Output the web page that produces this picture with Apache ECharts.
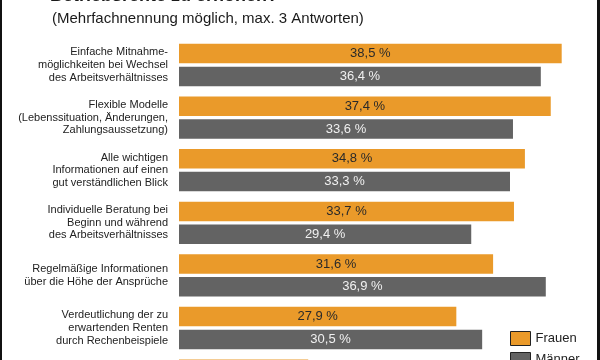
<!DOCTYPE html>
<html>
<head>
<meta charset="utf-8">
<script src="https://cdn.jsdelivr.net/npm/echarts@6/dist/echarts.min.js"></script>
<style>
html,body{margin:0;padding:0;background:#fff;overflow:hidden;width:600px;height:360px;}
#chart{width:600px;height:420px;}
</style>
</head>
<body>
<div id="chart"></div>
<script>
const categories = [
  'Einfache Mitnahme-\nmöglichkeiten bei Wechsel\ndes Arbeitsverhältnisses',
  'Flexible Modelle\n(Lebenssituation, Änderungen,\nZahlungsaussetzung)',
  'Alle wichtigen\nInformationen auf einen\ngut verständlichen Blick',
  'Individuelle Beratung bei\nBeginn und während\ndes Arbeitsverhältnisses',
  'Regelmäßige Informationen\nüber die Höhe der Ansprüche',
  'Verdeutlichung der zu\nerwartenden Renten\ndurch Rechenbeispiele',
  'Sonstiges'
];
const frauen = [38.5, 37.4, 34.8, 33.7, 31.6, 27.9, 13.0];
const maenner = [36.4, 33.6, 33.3, 29.4, 36.9, 30.5, 12.0];
const seriesNames = ['Frauen', 'Männer'];
const titleText = 'Betriebsrente zu erhöhen?';
const subtitleText = '(Mehrfachnennung möglich, max. 3 Antworten)';

const fmt = p => p.value.toFixed(1).replace('.', ',') + ' %';
const chart = echarts.init(document.getElementById('chart'), null, {renderer: 'canvas'});
chart.setOption({
  animation: false,
  textStyle: {fontFamily: 'Liberation Sans, Arial, sans-serif'},
  title: [
    {text: titleText, left: 50, top: -13, padding: 0,
     textStyle: {fontSize: 18, fontWeight: 'bold', color: '#1a1a1a', fontFamily: 'Liberation Sans'}},
    {text: subtitleText, left: 52, top: 11, padding: 0,
     textStyle: {fontSize: 15, fontWeight: 'normal', color: '#1a1a1a', fontFamily: 'Liberation Sans'}}
  ],
  legend: {
    orient: 'vertical', left: 510, top: 331, padding: 0,
    itemWidth: 20, itemHeight: 14, itemGap: 6, icon: 'rect',
    itemStyle: {borderColor: '#222', borderWidth: 1},
    textStyle: {fontSize: 13, color: '#222', fontFamily: 'Liberation Sans'},
    data: seriesNames
  },
  grid: {left: 179, right: 23.4, top: 38.7, bottom: 13.1, containLabel: false},
  xAxis: {type: 'value', min: 0, max: 40, show: false},
  yAxis: {
    type: 'category', data: categories, inverse: true,
    axisLine: {show: false}, axisTick: {show: false}, splitLine: {show: false},
    axisLabel: {margin: 11, fontSize: 11, lineHeight: 12.6, color: '#222', fontFamily: 'Liberation Sans', align: 'right'}
  },
  series: [
    {name: seriesNames[0], type: 'bar', data: frauen, barWidth: 19.5, barGap: '17%',
     itemStyle: {color: '#EA9A2A'},
     label: {show: true, position: 'inside', formatter: fmt, fontSize: 13, color: '#2a2a2a', fontFamily: 'Liberation Sans'}},
    {name: seriesNames[1], type: 'bar', data: maenner, barWidth: 19.5, barGap: '17%',
     itemStyle: {color: '#636363'},
     label: {show: true, position: 'inside', formatter: fmt, fontSize: 13, color: '#f0f0f0', fontFamily: 'Liberation Sans'}}
  ],
  graphic: [
    {type: 'rect', shape: {x: 0, y: 0, width: 2, height: 420}, style: {fill: '#111'}},
    {type: 'rect', shape: {x: 597, y: 0, width: 3, height: 420}, style: {fill: '#111'}}
  ]
});
</script>
</body>
</html>
